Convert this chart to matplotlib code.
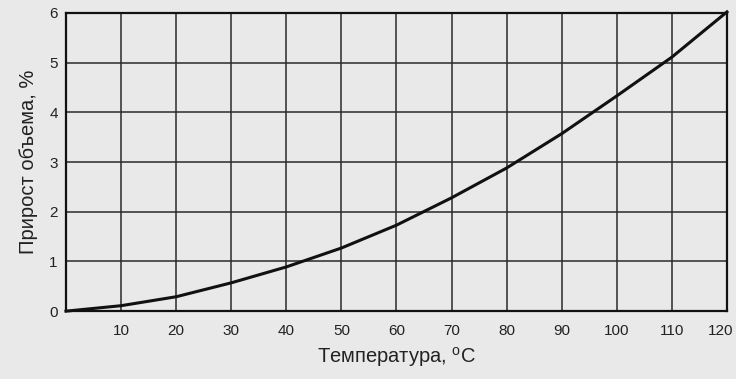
import matplotlib

matplotlib.use("Agg")
import matplotlib.pyplot as plt
from matplotlib.transforms import ScaledTranslation

# readings
temp = [0, 10, 20, 30, 40, 50, 60, 70, 80, 90, 100, 110, 120]
growth = [0.0, 0.11, 0.29, 0.57, 0.89, 1.27, 1.73, 2.28, 2.88, 3.57, 4.33, 5.11, 6.02]

x_ticks = [10, 20, 30, 40, 50, 60, 70, 80, 90, 100, 110, 120]
y_ticks = [0, 1, 2, 3, 4, 5, 6]

BG = "#e9e9e9"
INK = "#111111"

plt.rcParams["font.family"] = ["Liberation Sans", "DejaVu Sans"]

fig = plt.figure(figsize=(7.36, 3.79), dpi=100, facecolor=BG)
ax = fig.add_axes([0.0897, 0.179, 0.898, 0.787], facecolor=BG)

ax.plot(temp, growth, color=INK, lw=2.2, zorder=5, clip_on=False,
        solid_joinstyle="round")

ax.set_xlim(0, 120)
ax.set_ylim(0, 6)
ax.set_xticks(x_ticks)
ax.set_yticks(y_ticks)
ax.grid(True, color="#2a2a2a", lw=1.1)
ax.set_axisbelow(True)
for s in ax.spines.values():
    s.set_color(INK)
    s.set_linewidth(1.6)
ax.tick_params(length=0, labelsize=11, colors="#222222", pad=6)
ax.tick_params(axis="x", pad=9)

# last x label sits a little left of its grid line, as in the print
last = ax.get_xticklabels()[-1]
last.set_transform(last.get_transform() + ScaledTranslation(-6 / 100, 0, fig.dpi_scale_trans))

ax.set_xlabel("Температура, $^\\mathregular{o}$С", fontsize=14.5, color="#222222",
              labelpad=5)
ax.set_ylabel("Прирост объема, %", fontsize=14.5, color="#222222", labelpad=8)

fig.savefig("out.png", dpi=100, facecolor=BG)
